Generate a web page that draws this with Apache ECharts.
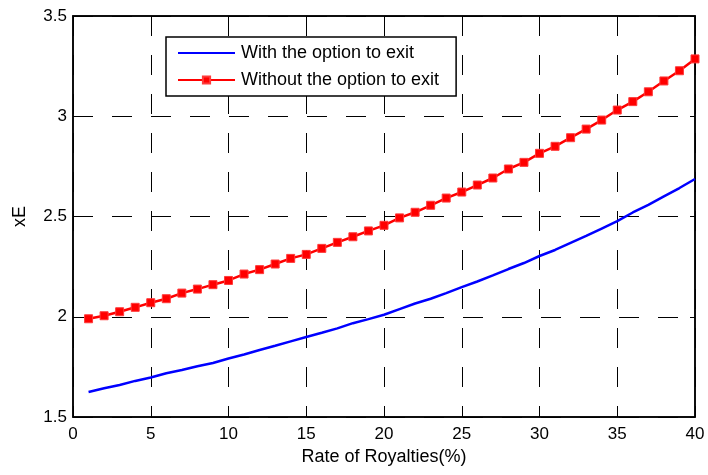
<!DOCTYPE html>
<html>
<head>
<meta charset="utf-8">
<script src="https://cdn.jsdelivr.net/npm/echarts@6/dist/echarts.min.js"></script>
<style>
  html, body { margin: 0; padding: 0; background: #fff; }
  #chart { width: 708px; height: 475px; }
</style>
</head>
<body>
<div id="chart"></div>
<script>
// Royalty rate (%) on the x axis
const royaltyRate = [1, 2, 3, 4, 5, 6, 7, 8, 9, 10,
  11, 12, 13, 14, 15, 16, 17, 18, 19, 20,
  21, 22, 23, 24, 25, 26, 27, 28, 29, 30,
  31, 32, 33, 34, 35, 36, 37, 38, 39, 40];

// xE with the option to exit
const withExit = [1.625, 1.643, 1.660, 1.680, 1.697, 1.718, 1.734, 1.753, 1.769, 1.792,
  1.812, 1.834, 1.855, 1.877, 1.899, 1.920, 1.942, 1.968, 1.988, 2.010,
  2.038, 2.066, 2.090, 2.118, 2.148, 2.176, 2.206, 2.238, 2.268, 2.303,
  2.333, 2.368, 2.403, 2.440, 2.477, 2.520, 2.558, 2.600, 2.642, 2.687];

// xE without the option to exit
const withoutExit = [1.990, 2.005, 2.025, 2.047, 2.070, 2.090, 2.118, 2.138, 2.160, 2.181,
  2.213, 2.235, 2.263, 2.291, 2.311, 2.341, 2.371, 2.399, 2.428, 2.456,
  2.493, 2.521, 2.556, 2.592, 2.622, 2.657, 2.692, 2.737, 2.770, 2.815,
  2.850, 2.893, 2.936, 2.981, 3.031, 3.073, 3.122, 3.176, 3.227, 3.286];

const seriesNames = ['With the option to exit', 'Without the option to exit'];
const xTicks = [0, 5, 10, 15, 20, 25, 30, 35, 40];
const yTicks = [1.5, 2, 2.5, 3, 3.5];

const FONT = '"Liberation Sans", Arial, sans-serif';
const chart = echarts.init(document.getElementById('chart'), null, { renderer: 'canvas' });

const dashGrid = { show: true, lineStyle: { color: '#000', width: 1, type: [20, 19] } };
const innerTick = { show: true, inside: true, length: 5, lineStyle: { color: '#000', width: 1 } };

chart.setOption({
  animation: false,
  backgroundColor: '#fff',
  textStyle: { fontFamily: FONT },
  grid: {
    left: 73, right: 13, top: 16, bottom: 58,
    show: true, borderColor: '#000', borderWidth: 1.5, backgroundColor: 'transparent'
  },
  legend: {
    orient: 'vertical',
    left: 166, top: 37,
    padding: [7, 17, 7, 11],
    itemWidth: 57, itemHeight: 9, itemGap: 9,
    backgroundColor: '#fff',
    borderColor: '#000', borderWidth: 1.5, borderRadius: 0,
    textStyle: { fontFamily: FONT, fontSize: 18, color: '#000', padding: [0, 0, 0, 1] },
    data: [
      { name: seriesNames[0], itemStyle: { opacity: 0 } },
      { name: seriesNames[1] }
    ]
  },
  xAxis: [{
    type: 'value', min: xTicks[0], max: xTicks[xTicks.length - 1], interval: 5,
    name: 'Rate of Royalties(%)', nameLocation: 'middle', nameGap: 31,
    nameTextStyle: { fontFamily: FONT, fontSize: 18, color: '#000' },
    axisLine: { show: true, onZero: false, lineStyle: { color: '#000', width: 1.5 } },
    axisTick: innerTick,
    axisLabel: { fontFamily: FONT, fontSize: 17, color: '#000', margin: 9 },
    splitLine: dashGrid
  }, {
    type: 'value', position: 'top', min: xTicks[0], max: xTicks[xTicks.length - 1], interval: 5,
    axisLine: { show: true, onZero: false, lineStyle: { color: '#000', width: 1.5 } },
    axisTick: innerTick, axisLabel: { show: false }, splitLine: { show: false }
  }],
  yAxis: [{
    type: 'value', min: yTicks[0], max: yTicks[yTicks.length - 1], interval: 0.5,
    name: 'xE', nameLocation: 'middle', nameGap: 44, nameRotate: 90,
    nameTextStyle: { fontFamily: FONT, fontSize: 18, color: '#000' },
    axisLine: { show: true, onZero: false, lineStyle: { color: '#000', width: 1.5 } },
    axisTick: innerTick,
    axisLabel: { fontFamily: FONT, fontSize: 17, color: '#000', margin: 6,
      formatter: v => String(v) },
    splitLine: dashGrid
  }, {
    type: 'value', position: 'right', min: yTicks[0], max: yTicks[yTicks.length - 1], interval: 0.5,
    axisLine: { show: true, onZero: false, lineStyle: { color: '#000', width: 1.5 } },
    axisTick: innerTick, axisLabel: { show: false }, splitLine: { show: false }
  }],
  series: [{
    name: seriesNames[0],
    type: 'line',
    data: royaltyRate.map((x, i) => [x, withExit[i]]),
    showSymbol: false, symbol: 'none',
    lineStyle: { color: '#0000ff', width: 2.5 },
    itemStyle: { color: '#0000ff' },
    z: 3
  }, {
    name: seriesNames[1],
    type: 'line',
    data: royaltyRate.map((x, i) => [x, withoutExit[i]]),
    symbol: 'rect', symbolSize: 8, showAllSymbol: true,
    lineStyle: { color: '#ff0000', width: 2.5 },
    itemStyle: { color: '#ff0000', borderColor: '#ff3a3a', borderWidth: 1 },
    z: 4
  }]
});
</script>
</body>
</html>
